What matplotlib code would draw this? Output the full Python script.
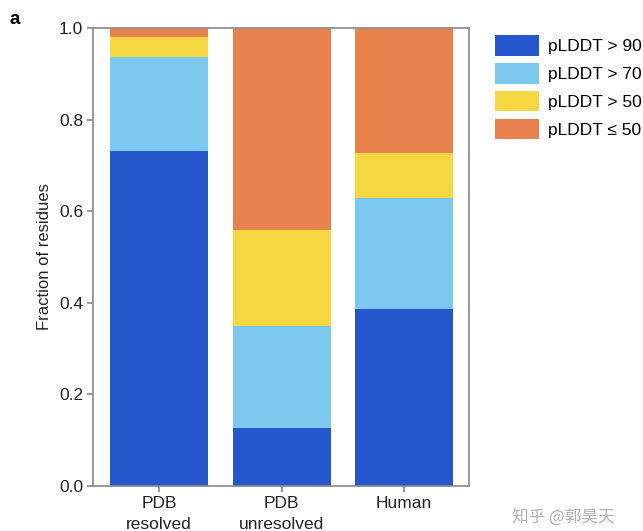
import matplotlib
matplotlib.use("Agg")
import matplotlib.pyplot as plt
import numpy as np
from matplotlib.patches import Patch

categories = ["PDB\nresolved", "PDB\nunresolved", "Human"]
series_names = ["pLDDT > 90", "pLDDT > 70", "pLDDT > 50", "pLDDT ≤ 50"]
gt90 = [0.731, 0.127, 0.386]
gt70 = [0.206, 0.222, 0.243]
gt50 = [0.043, 0.210, 0.098]
le50 = [0.020, 0.441, 0.273]
colors = ["#2556CC", "#7DC8EE", "#F5D742", "#E8834F"]

plt.rcParams['font.family'] = ['Liberation Sans', 'DejaVu Sans']
fig = plt.figure(figsize=(6.43, 5.31), dpi=100)
ax = fig.add_axes([93/643, 1-486/531, (469-93)/643, (486-28)/531])

x = np.arange(len(categories))
bottom = np.zeros(len(categories))
for vals, c in zip([gt90, gt70, gt50, le50], colors):
    ax.bar(x, vals, bottom=bottom, width=0.8, color=c, edgecolor='none')
    bottom += np.array(vals)

ax.set_xlim(-0.54, 2.53)
ax.set_ylim(0, 1.0)
ax.set_xticks(x)
ax.set_xticklabels(categories, fontsize=12.5, color='#222222', linespacing=1.55)
ax.set_yticks([0, 0.2, 0.4, 0.6, 0.8, 1.0])
ax.set_yticklabels(["0.0", "0.2", "0.4", "0.6", "0.8", "1.0"], fontsize=12.5, color='#222222')
ax.tick_params(direction='out', length=4, color='#888888', width=1.2, pad=3)
for s in ax.spines.values():
    s.set_color('#888888')
    s.set_linewidth(1.2)
ax.set_ylabel("Fraction of residues", fontsize=12, color='#222222', labelpad=5)

handles = [Patch(facecolor=c, edgecolor='none') for c in colors]
fig.legend(handles, series_names, loc='upper left', bbox_to_anchor=(495/643, 1-35/531),
           frameon=False, fontsize=12.5, handlelength=2.55, handleheight=1.45,
           handletextpad=0.5, labelspacing=0.42, borderaxespad=0, borderpad=0)

fig.text(10/643, 1-20/531, "a", fontsize=13.5, fontweight='bold', va='center', ha='left')
fig.text(512/643, 1-517/531, "知乎 @郭昊天", fontsize=12, color='#b0b0b0',
         family=['Noto Sans CJK SC', 'DejaVu Sans'], va='center', ha='left')

fig.savefig("out.png", dpi=100)
